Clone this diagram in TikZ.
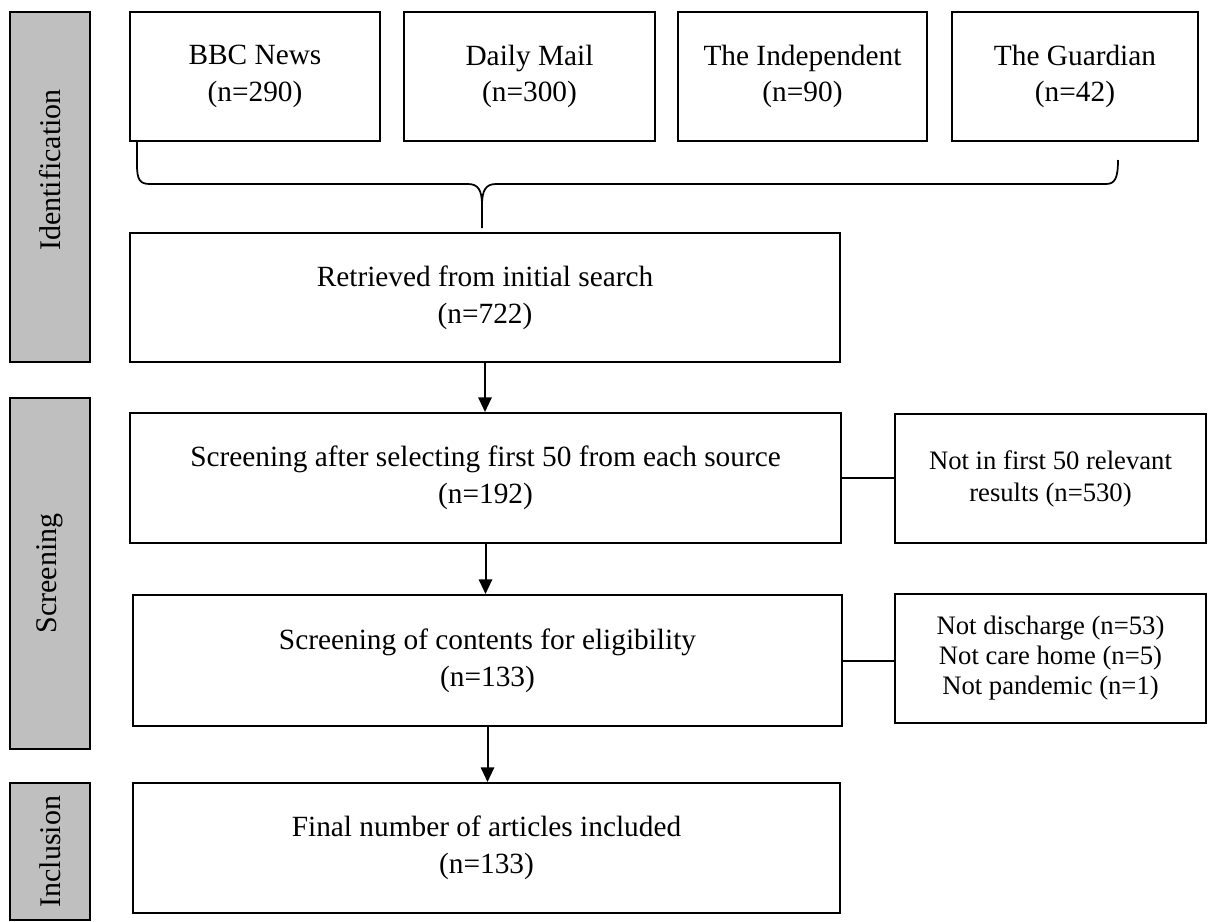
\documentclass[tikz,border=0pt]{standalone}
\usepackage{fontspec}
\setmainfont{Liberation Serif}
\usetikzlibrary{arrows.meta}
\begin{document}
\begin{tikzpicture}[x=0.75pt,y=-0.75pt,
  box/.style={draw,line width=1.5pt,inner sep=0pt,align=center,
    font=\fontsize{22}{27.5}\selectfont},
  sidebox/.style={box,font=\fontsize{20}{24}\selectfont},
  phase/.style={draw,line width=1.5pt,fill=black!25,inner sep=0pt,minimum width=60pt},
  phasetext/.style={rotate=90,font=\fontsize{22.5}{26}\selectfont},
  arr/.style={line width=1.5pt,-{Triangle[length=11pt,width=10pt]}},
  conn/.style={line width=1.5pt}]
\useasboundingbox (0,0) rectangle (1208,922);
% phase bars
\node[phase,minimum height=262.5pt] (pid) at (50,187) {};
\node[phasetext] at (50,170) {Identification};
\node[phase,minimum height=263.25pt] (pscr) at (50,573.5) {};
\node[phasetext] at (pscr.center) {Screening};
\node[phase,minimum height=102.75pt] (pinc) at (50,851.5) {};
\node[phasetext] at (pinc.center) {Inclusion};
% sources
\node[box,minimum width=187.5pt,minimum height=96.75pt] (bbc) at (255,76.5) {BBC News\\(n=290)};
\node[box,minimum width=188.25pt,minimum height=96.75pt] (dm) at (529.5,76.5) {Daily Mail\\(n=300)};
\node[box,minimum width=186.75pt,minimum height=96.75pt] (ind) at (802.5,76.5) {The Independent\\(n=90)};
\node[box,minimum width=184.5pt,minimum height=96.75pt] (gua) at (1075,76.5) {The Guardian\\(n=42)};
% main boxes
\node[box,minimum width=532.5pt,minimum height=96.75pt] (ret) at (485,297.5) {Retrieved from initial search\\(n=722)};
\node[box,minimum width=533.25pt,minimum height=97.5pt] (scr) at (485.5,478) {Screening after selecting first 50 from each source\\(n=192)};
\node[box,minimum width=531.75pt,minimum height=98.25pt] (elig) at (487.5,660.5) {Screening of contents for eligibility\\(n=133)};
\node[box,minimum width=530.25pt,minimum height=97.5pt] (fin) at (486.5,848) {Final number of articles included\\(n=133)};
% exclusion boxes
\node[sidebox,minimum width=233.25pt,minimum height=96.75pt] (ex1) at (1050.5,478.5) {Not in first 50 relevant\\results (n=530)};
\node[sidebox,minimum width=233.25pt,minimum height=96.75pt,font=\fontsize{20}{22.5}\selectfont] (ex2) at (1050.5,658.5) {Not discharge (n=53)\\Not care home (n=5)\\Not pandemic (n=1)};
% brace
\coordinate (bl) at (137,141);
\coordinate (br) at (1118,160);
\coordinate (cusp) at (482,228);
\draw[conn,line width=1.3pt] (bl) -- (137,165) .. controls (137,180) and (140,184) .. (150,184)
  -- (468,184) .. controls (478,184) and (482,190) .. (482,205) -- (cusp);
\draw[conn,line width=1.3pt] (482,205) .. controls (482,190) and (486,184) .. (496,184)
  -- (1106,184) .. controls (1115,184) and (1118,178) .. (br);
% arrows
\draw[arr] (ret.south) -- (ret.south |- scr.north);
\draw[arr] (scr.south) -- (scr.south |- elig.north);
\draw[arr] (elig.south) -- (elig.south |- fin.north);
% side connectors
\draw[conn] (scr.east) -- (scr.east -| ex1.west);
\draw[conn] (elig.east) -- (elig.east -| ex2.west);
\end{tikzpicture}
\end{document}
